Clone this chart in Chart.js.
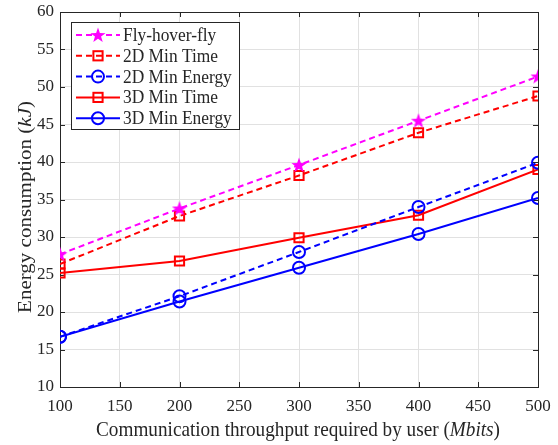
<!DOCTYPE html>
<html>
<head>
<meta charset="utf-8">
<script src="https://cdn.jsdelivr.net/npm/chart.js@4.4.1/dist/chart.umd.min.js"></script>
<style>
html,body{margin:0;padding:0;background:#fff;}
#wrap{width:558px;height:445px;position:relative;}
</style>
</head>
<body>
<div id="wrap"><canvas id="c" width="558" height="445"></canvas></div>
<script>
const throughput = [100, 200, 300, 400, 500];
const flyHoverFly = [27.7, 33.8, 39.6, 45.5, 51.4];
const min2DTime = [26.4, 32.8, 38.2, 43.9, 48.8];
const min2DEnergy = [16.7, 22.1, 28.0, 34.0, 39.9];
const min3DTime = [25.2, 26.8, 29.9, 32.9, 39.0];
const min3DEnergy = [16.7, 21.4, 25.9, 30.4, 35.2];
const xTicks = [100, 150, 200, 250, 300, 350, 400, 450, 500];
const yTicks = [10, 15, 20, 25, 30, 35, 40, 45, 50, 55, 60];
const seriesNames = ['Fly-hover-fly', '2D Min Time', '2D Min Energy', '3D Min Time', '3D Min Energy'];

const MAG = '#ff00ff', RED = '#ff0000', BLUE = '#0000ff';
const AX = '#262626', GRID = '#e1e1e1';
const FONT = '"Liberation Serif", "Times New Roman", serif';
const SQ = 0.915; // horizontal text squeeze seen in the reference

function starImg(size, color) {
  const c = document.createElement('canvas');
  c.width = size; c.height = size;
  const g = c.getContext('2d');
  const cx = size / 2, cy = size / 2 + 0.6, R = size / 2, r = R * 0.4;
  g.beginPath();
  for (let i = 0; i < 10; i++) {
    const rad = i % 2 === 0 ? R : r;
    const a = -Math.PI / 2 + i * Math.PI / 5;
    const x = cx + rad * Math.cos(a), y = cy + rad * Math.sin(a);
    if (i === 0) g.moveTo(x, y); else g.lineTo(x, y);
  }
  g.closePath();
  g.fillStyle = color; g.fill();
  return c;
}
const star = starImg(16, MAG);

function pts(arr) { return arr.map((v, i) => ({ x: throughput[i], y: v })); }
const DASH = [6, 4];

const datasets = [
  { label: seriesNames[0], data: pts(flyHoverFly), borderColor: MAG, backgroundColor: MAG, borderDash: DASH, pointStyle: star, pointRadius: 8, _marker: 'star' },
  { label: seriesNames[1], data: pts(min2DTime), borderColor: RED, backgroundColor: 'rgba(0,0,0,0)', borderDash: DASH, pointStyle: 'rect', pointRadius: 6.5, _marker: 'rect' },
  { label: seriesNames[2], data: pts(min2DEnergy), borderColor: BLUE, backgroundColor: 'rgba(0,0,0,0)', borderDash: DASH, pointStyle: 'circle', pointRadius: 6, _marker: 'circle' },
  { label: seriesNames[3], data: pts(min3DTime), borderColor: RED, backgroundColor: 'rgba(0,0,0,0)', borderDash: [], pointStyle: 'rect', pointRadius: 6.5, _marker: 'rect' },
  { label: seriesNames[4], data: pts(min3DEnergy), borderColor: BLUE, backgroundColor: 'rgba(0,0,0,0)', borderDash: [], pointStyle: 'circle', pointRadius: 6, _marker: 'circle' }
].map(d => Object.assign({ borderWidth: 2, pointBorderWidth: 2, pointBorderColor: d.borderColor, pointBackgroundColor: d.backgroundColor, fill: false, tension: 0 }, d));

function drawMarker(ctx, type, x, y, color) {
  ctx.save();
  ctx.setLineDash([]);
  ctx.lineWidth = 2;
  ctx.strokeStyle = color;
  if (type === 'star') {
    ctx.drawImage(star, x - 8, y - 8, 16, 16);
  } else if (type === 'rect') {
    ctx.strokeRect(x - 4.6, y - 4.6, 9.2, 9.2);
  } else {
    ctx.beginPath(); ctx.arc(x, y, 6, 0, Math.PI * 2); ctx.stroke();
  }
  ctx.restore();
}

function mixedText(ctx, parts, size) {
  let w = 0;
  parts.forEach(([t, it]) => {
    ctx.font = (it ? 'italic ' : '') + size + 'px ' + FONT;
    ctx.fillText(t, w, 0);
    w += ctx.measureText(t).width;
  });
  return w;
}
function measureMixed(ctx, parts, size) {
  let w = 0;
  parts.forEach(([t, it]) => {
    ctx.font = (it ? 'italic ' : '') + size + 'px ' + FONT;
    w += ctx.measureText(t).width;
  });
  return w;
}

const decor = {
  id: 'decor',
  beforeDatasetsDraw(chart) {
    const { ctx, chartArea: a } = chart;
    ctx.save();
    ctx.strokeStyle = AX; ctx.lineWidth = 1;
    ctx.strokeRect(Math.round(a.left) + 0.5, Math.round(a.top) + 0.5, Math.round(a.right - a.left), Math.round(a.bottom - a.top));
    const xs = chart.scales.x, ys = chart.scales.y;
    ctx.beginPath();
    xTicks.forEach(v => {
      const px = Math.round(xs.getPixelForValue(v)) + 0.5;
      ctx.moveTo(px, a.bottom); ctx.lineTo(px, a.bottom - 5);
      ctx.moveTo(px, a.top); ctx.lineTo(px, a.top + 5);
    });
    yTicks.forEach(v => {
      const py = Math.round(ys.getPixelForValue(v)) + 0.5;
      ctx.moveTo(a.left, py); ctx.lineTo(a.left + 5, py);
      ctx.moveTo(a.right, py); ctx.lineTo(a.right - 5, py);
    });
    ctx.stroke();
    ctx.restore();
  },
  afterDraw(chart) {
    const { ctx, chartArea: a } = chart;
    ctx.save();
    ctx.fillStyle = AX;
    ctx.textBaseline = 'alphabetic';
    ctx.textAlign = 'left';
    const xParts = [['Communication throughput required by user (', false], ['Mbits', true], [')', false]];
    const xw = measureMixed(ctx, xParts, 21) * SQ;
    ctx.save();
    ctx.translate(298 - xw / 2, 436);
    ctx.scale(SQ, 1);
    mixedText(ctx, xParts, 21);
    ctx.restore();
    const yParts = [['Energy consumption (', false], ['kJ', true], [')', false]];
    const yw = measureMixed(ctx, yParts, 21);
    ctx.save();
    ctx.translate(31, 207);
    ctx.rotate(-Math.PI / 2);
    ctx.scale(1, SQ);
    ctx.translate(-yw / 2, 0);
    mixedText(ctx, yParts, 21);
    ctx.restore();
    ctx.restore();

    ctx.save();
    const L = 71, T = 22, W = 168, H = 107;
    ctx.fillStyle = '#fff';
    ctx.fillRect(L, T, W, H);
    ctx.strokeStyle = AX; ctx.lineWidth = 1;
    ctx.strokeRect(L + 0.5, T + 0.5, W, H);
    chart.data.datasets.forEach((d, i) => {
      const yy = T + 13 + i * 20.8;
      ctx.save();
      ctx.strokeStyle = d.borderColor; ctx.lineWidth = 2;
      ctx.setLineDash(d.borderDash || []);
      ctx.beginPath(); ctx.moveTo(76, yy); ctx.lineTo(120, yy); ctx.stroke();
      ctx.restore();
      drawMarker(ctx, d._marker, 98, yy, d.borderColor);
      ctx.save();
      ctx.fillStyle = AX;
      ctx.font = '19px ' + FONT;
      ctx.textAlign = 'left'; ctx.textBaseline = 'middle';
      ctx.translate(123, yy + 1);
      ctx.scale(SQ, 1);
      ctx.fillText(d.label, 0, 0);
      ctx.restore();
    });
    ctx.restore();
  }
};

new Chart(document.getElementById('c'), {
  type: 'line',
  data: { datasets },
  options: {
    responsive: false,
    animation: false,
    layout: { padding: { top: 12, right: 20, left: 0, bottom: 0 } },
    plugins: { legend: { display: false }, tooltip: { enabled: false } },
    scales: {
      x: {
        type: 'linear', min: 100, max: 500,
        afterBuildTicks(s) { s.ticks = xTicks.map(v => ({ value: v })); },
        afterFit(s) { s.height = 58; s.paddingRight = 0; s.paddingLeft = 0; },
        grid: { color: GRID, lineWidth: 1, drawTicks: false },
        border: { display: false },
        ticks: { color: AX, font: { family: FONT, size: 17 }, padding: 9, maxRotation: 0 }
      },
      y: {
        type: 'linear', min: 10, max: 60,
        afterBuildTicks(s) { s.ticks = yTicks.map(v => ({ value: v })); },
        afterFit(s) { s.width = 60; s.paddingTop = 0; s.paddingBottom = 0; },
        grid: { color: GRID, lineWidth: 1, drawTicks: false },
        border: { display: false },
        ticks: { color: AX, font: { family: FONT, size: 17 }, padding: 6 }
      }
    }
  },
  plugins: [decor]
});
</script>
</body>
</html>
